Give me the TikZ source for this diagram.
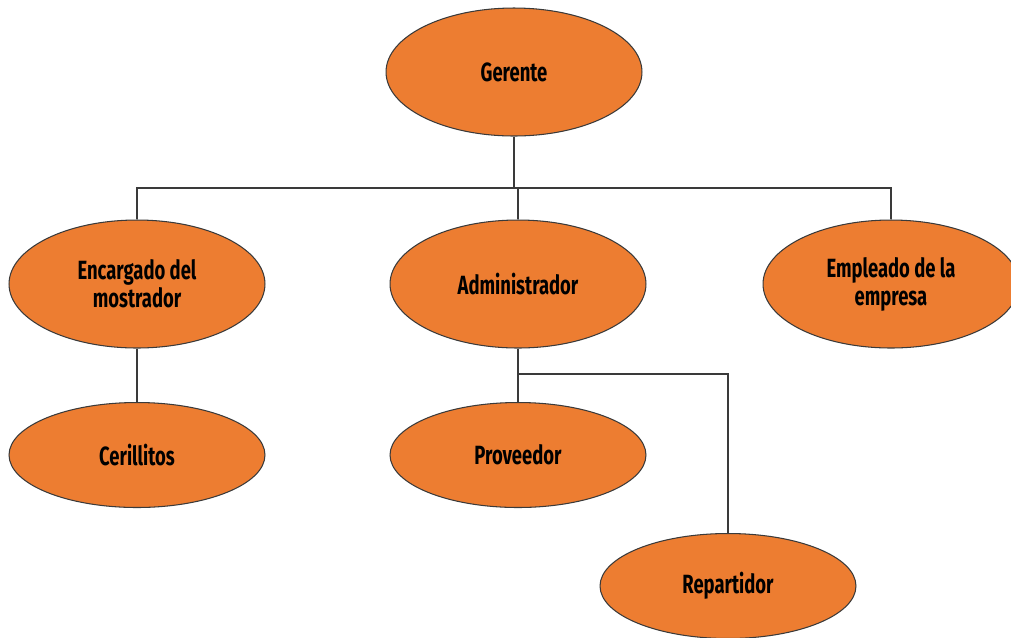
\documentclass[tikz,border=0pt]{standalone}
\usepackage{fontspec}
\setmainfont{Fira Sans}[FakeStretch=0.7]
\usetikzlibrary{shapes.geometric}

\definecolor{puesto}{HTML}{ED7D31}
\definecolor{borde}{HTML}{3A3A3A}

\begin{document}
\begin{tikzpicture}[
    x=0.02cm, y=-0.02cm,
    cargo/.style={ellipse, draw=borde, line width=0.6pt, fill=puesto, inner sep=0pt,
      minimum width=5.12cm, minimum height=2.56cm, align=center,
      font=\fontsize{15}{16}\selectfont\bfseries},
    subcargo/.style={cargo, minimum height=2.1cm},
    linea/.style={draw=borde, line width=0.6pt}
  ]

  \useasboundingbox (0,0) rectangle (1011,637);

  % niveles
  \node [cargo] (Gerente) at (514,72) {Gerente};
  \node [cargo] (Encargado) at (137,284) {Encargado del\\mostrador};
  \node [cargo] (Administrador) at (518,284) {Administrador};
  \node [cargo] (Empleado) at (891,284) {Empleado de la\\empresa};
  \node [subcargo] (Cerillitos) at (137,455) {Cerillitos};
  \node [subcargo] (Proveedor) at (518,455) {Proveedor};
  \node [subcargo] (Repartidor) at (728,586) {Repartidor};

  \coordinate (bus) at (514,188);
  \coordinate (rama) at (518,374);

  % conexiones
  \draw [linea] (Gerente.south) -- (bus);
  \draw [linea] (Encargado.north) |- (bus) -| (Empleado.north);
  \draw [linea] (Administrador.north) -- (Administrador.north |- bus);
  \draw [linea] (Encargado.south) -- (Cerillitos.north);
  \draw [linea] (Administrador.south) -- (Proveedor.north);
  \draw [linea] (rama) -| (Repartidor.north);

\end{tikzpicture}
\end{document}
